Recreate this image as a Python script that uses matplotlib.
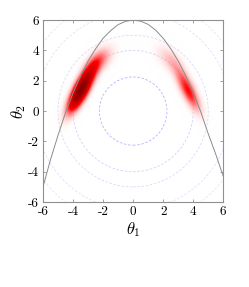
import numpy as np
import matplotlib
matplotlib.use('Agg')
import matplotlib.pyplot as plt
from matplotlib.colors import LinearSegmentedColormap
from matplotlib.patches import Circle

plt.rcParams['mathtext.fontset'] = 'cm'

# constraint curve
theta1_curve = [-6.0, -5.5, -5.0, -4.5, -4.0, -3.5, -3.0, -2.5, -2.0, -1.5, -1.0, -0.5, 0.0,
                0.5, 1.0, 1.5, 2.0, 2.5, 3.0, 3.5, 4.0, 4.5, 5.0, 5.5, 6.0]
theta2_curve = [-5.0, -3.2, -1.6, -0.1, 1.2, 2.3, 3.3, 4.1, 4.8, 5.3, 5.7, 5.92, 6.0,
                5.93, 5.72, 5.33, 4.8, 4.12, 3.3, 2.33, 1.22, -0.05, -1.5, -2.85, -4.3]

# dashed prior contours
ring_radii = [2.25, 4.0, 5.0, 6.5, 7.5]
ring_colors = ['#b4b4ff', '#d2d2fa', '#dadafa', '#e0e0fa', '#e4e4fa']

# posterior blobs (gaussian components)
blob_mu1 = [-3.5, -2.2, 3.65, 2.3]
blob_mu2 = [1.4, 3.4, 1.35, 3.5]
blob_sd_major = [1.25, 0.9, 1.25, 0.9]
blob_sd_minor = [0.38, 0.5, 0.38, 0.5]
blob_angle = [62, 45, 117, 135]
blob_weight = [1.0, 0.3, 0.5, 0.2]

ticks = [-6, -4, -2, 0, 2, 4, 6]
tick_labels = ['-6', '-4', '-2', '0', '2', '4', '6']

# density on a grid
g = np.linspace(-6, 6, 200)
X, Y = np.meshgrid(g, g)
Z = np.zeros_like(X)
for m1, m2, sa, sb, ang, w in zip(blob_mu1, blob_mu2, blob_sd_major, blob_sd_minor, blob_angle, blob_weight):
    a = np.deg2rad(ang)
    dx = X - m1
    dy = Y - m2
    u = dx*np.cos(a) + dy*np.sin(a)
    v = -dx*np.sin(a) + dy*np.cos(a)
    Z += w*np.exp(-0.5*(u**2/sa**2 + v**2/sb**2))
Z = Z / Z.max()

cmap = LinearSegmentedColormap.from_list('wr', [(0.0, (1, 1, 1, 0)),
                                                (0.5, (1, 0, 0, 1)),
                                                (1.0, (0.5, 0, 0, 1))])

fig = plt.figure(figsize=(2.49, 2.87), dpi=100)
ax = fig.add_axes([0.1727, 0.296, 0.724, 0.634])

for r, c in zip(ring_radii, ring_colors):
    ax.add_patch(Circle((0, 0), r, fill=False, ec=c, lw=0.6, ls=(0, (3, 2)), zorder=1))

ax.imshow(Z, extent=[-6, 6, -6, 6], origin='lower', cmap=cmap, vmin=0, vmax=1,
          interpolation='bilinear', aspect='auto', zorder=2)

ax.plot(theta1_curve, theta2_curve, color='#8c8c8c', lw=0.7, zorder=3)

ax.set_xlim(-6, 6)
ax.set_ylim(-6, 6)
ax.set_xticks(ticks)
ax.set_yticks(ticks)
ax.set_xticklabels(tick_labels, family='cmr10', fontsize=9.5)
ax.set_yticklabels(tick_labels, family='cmr10', fontsize=9.5)
ax.tick_params(direction='in', length=2.5, width=0.6, color='#909090',
               top=True, right=True, pad=3)
for s in ax.spines.values():
    s.set_color('#909090')
    s.set_linewidth(0.8)

ax.set_xlabel(r'$\theta_1$', fontsize=12, labelpad=1)
ax.set_ylabel(r'$\theta_2$', fontsize=12, labelpad=0)

fig.savefig('out.png', dpi=100)
